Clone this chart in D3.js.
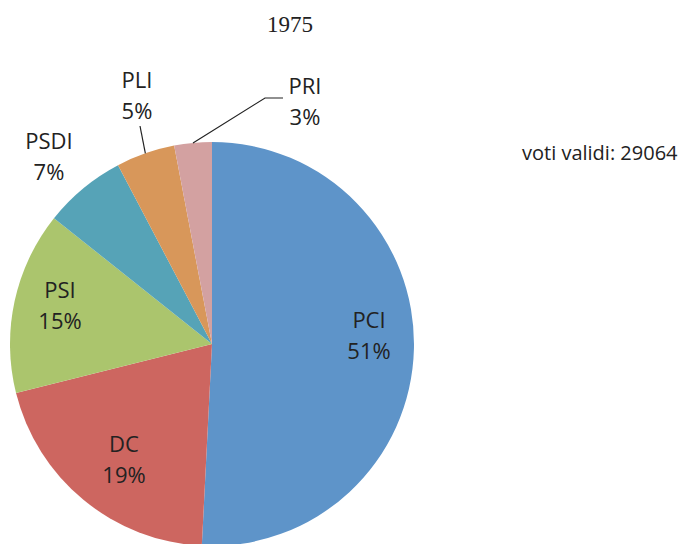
<!DOCTYPE html>
<html>
<head>
<meta charset="utf-8">
<script src="https://cdn.jsdelivr.net/npm/d3@7"></script>
<style>
  body { margin: 0; background: #fff; }
  svg { display: block; }
</style>
</head>
<body>
<svg id="chart"></svg>
<script>
// Données (voti 1975)
const parties = ["PCI", "DC", "PSI", "PSDI", "PLI", "PRI"];
const votes = [14765, 5900, 4243, 1918, 1366, 872];
const pctLabels = ["51%", "19%", "15%", "7%", "5%", "3%"];
const colors = ["#5E94C9", "#CD6660", "#ABC56D", "#56A3B7", "#D8975A", "#D3A1A1"];
const totalLabel = "voti validi: 29064";
const title = "1975";

const width = 690, height = 544;
const cx = 212, cy = 344, radius = 202;

// position des étiquettes (centre du bloc de deux lignes)
const labelPos = [[369, 336], [124, 460], [60, 306], [49, 157], [137, 96], [305, 102]];
// lignes de rappel (seulement PLI et PRI)
const leaders = { PLI: [[140, 126]], PRI: [[283, 98], [265, 98]] };

const svg = d3.select("#chart").attr("width", width).attr("height", height);

svg.append("text")
  .attr("x", 290).attr("y", 32)
  .attr("text-anchor", "middle")
  .attr("font-family", "Liberation Serif")
  .attr("font-size", "23px")
  .attr("fill", "#222")
  .text(title);

const pie = d3.pie().sort(null).value(d => d);
const arcs = pie(votes);
const arc = d3.arc().innerRadius(0).outerRadius(radius);
const edge = d3.arc().innerRadius(radius).outerRadius(radius);

const g = svg.append("g").attr("transform", `translate(${cx},${cy})`);

g.selectAll("path.slice")
  .data(arcs)
  .join("path")
  .attr("class", "slice")
  .attr("d", arc)
  .attr("fill", (d, i) => colors[i]);

// lignes de rappel
arcs.forEach((d, i) => {
  const pts = leaders[parties[i]];
  if (!pts) return;
  const [ex, ey] = edge.centroid(d);
  const line = pts.map(p => [p[0], p[1]]).concat([[ex + cx, ey + cy]]);
  svg.append("path")
    .attr("d", d3.line()(line))
    .attr("fill", "none")
    .attr("stroke", "#222")
    .attr("stroke-width", 1.2);
});

// étiquettes
const labels = svg.selectAll("text.lbl")
  .data(parties)
  .join("text")
  .attr("class", "lbl")
  .attr("text-anchor", "middle")
  .attr("font-family", "Open Sans")
  .attr("font-size", "22px")
  .attr("fill", "#222");

labels.append("tspan")
  .attr("x", (d, i) => labelPos[i][0])
  .attr("y", (d, i) => labelPos[i][1] - 8)
  .text(d => d);

labels.append("tspan")
  .attr("x", (d, i) => labelPos[i][0])
  .attr("y", (d, i) => labelPos[i][1] + 23)
  .text((d, i) => pctLabels[i]);

svg.append("text")
  .attr("x", 522).attr("y", 160)
  .attr("font-family", "Open Sans")
  .attr("font-size", "20px")
  .attr("fill", "#222")
  .text(totalLabel);
</script>
</body>
</html>
